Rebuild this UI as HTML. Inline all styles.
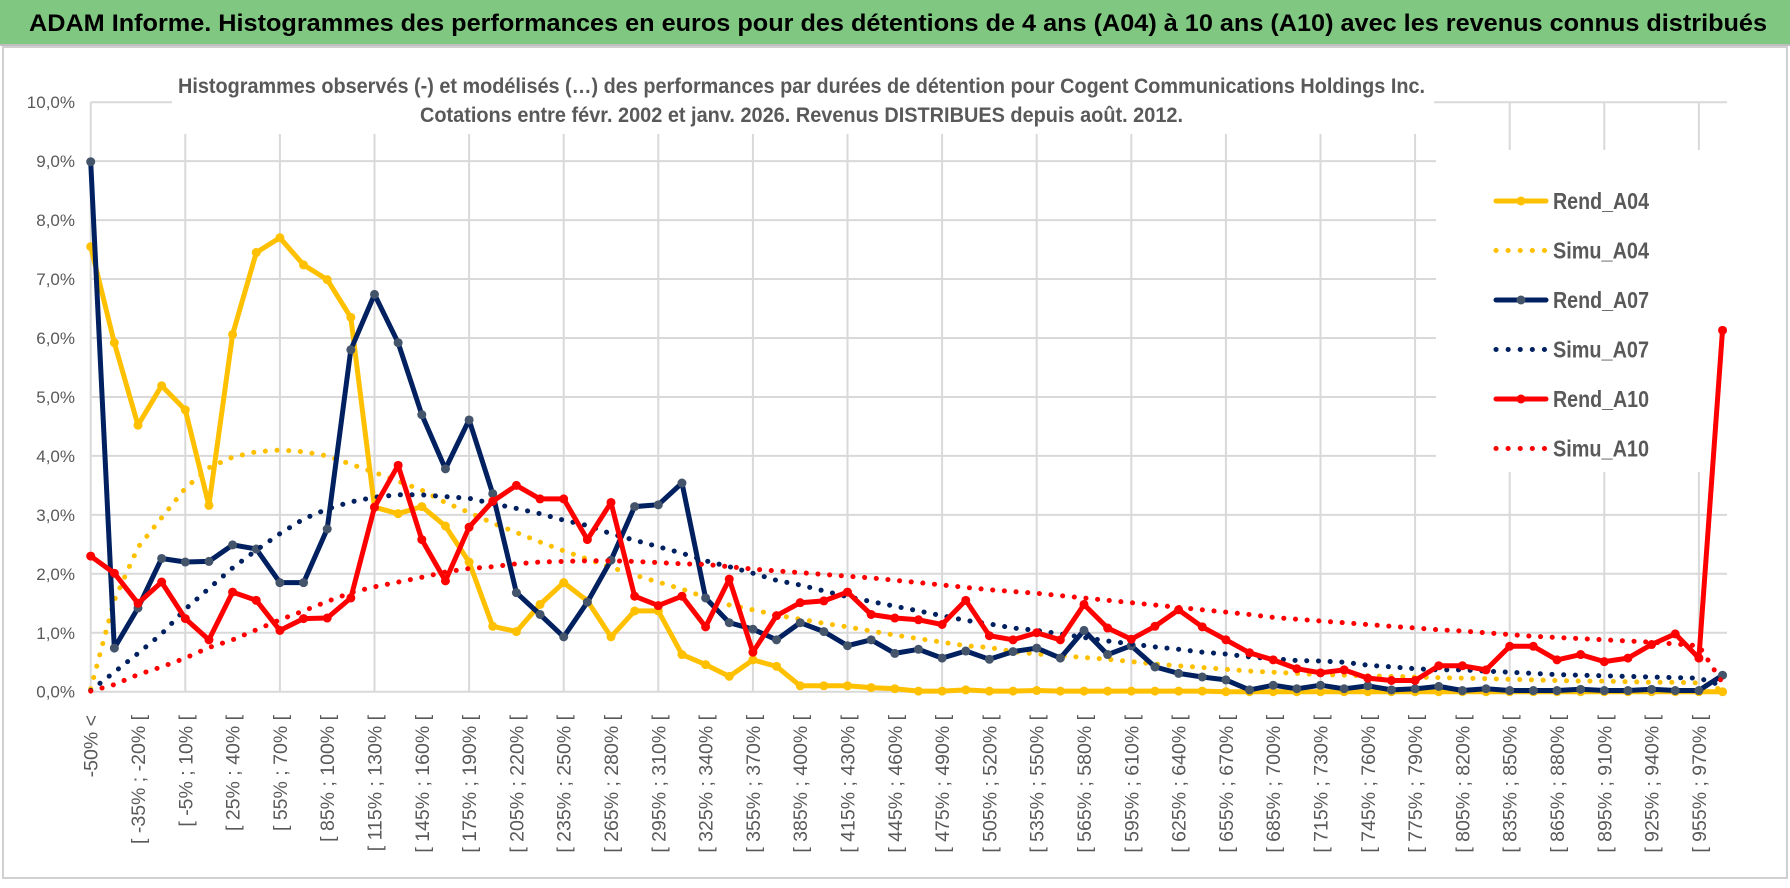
<!DOCTYPE html>
<html><head><meta charset="utf-8"><style>
html,body{margin:0;padding:0;background:#fff;}
svg{display:block;font-family:"Liberation Sans",sans-serif;}
</style></head><body>
<svg id="chart" width="1790" height="888" viewBox="0 0 1790 888" xmlns="http://www.w3.org/2000/svg">
<rect x="0" y="0" width="1790" height="888" fill="#fff"/>
<rect x="0" y="0" width="1790" height="44" fill="#80C882"/>
<line x1="0" y1="45" x2="1790" y2="45" stroke="#BFBFBF" stroke-width="2"/>
<text x="29" y="31" font-size="24" font-weight="bold" fill="#000" textLength="1738" lengthAdjust="spacingAndGlyphs">ADAM Informe. Histogrammes des performances en euros pour des détentions de 4 ans (A04) à 10 ans (A10) avec les revenus connus distribués</text>
<rect x="3" y="47" width="1784" height="831" fill="none" stroke="#D0D0D0" stroke-width="2"/>
<g id="grid"></g>
<rect x="172" y="66" width="1262" height="68" fill="#fff"/>
<rect x="1436" y="150" width="300" height="322" fill="#fff"/>
<g id="yaxis"></g>
<g id="xaxis"></g>
<text x="178" y="93" font-size="21" font-weight="bold" fill="#595959" textLength="1247" lengthAdjust="spacingAndGlyphs">Histogrammes observés (-) et modélisés (…) des performances par durées de détention pour Cogent Communications Holdings Inc.</text>
<text x="420" y="122" font-size="21" font-weight="bold" fill="#595959" textLength="763" lengthAdjust="spacingAndGlyphs">Cotations entre févr. 2002 et janv. 2026. Revenus DISTRIBUES depuis août. 2012.</text>
<g id="legend"></g>
<g id="series"></g>
</svg>
<script>
const categories = ["-50% <"];
for (let k = 1; k < 70; k++) { const a = -50 + 15 * (k - 1); categories.push("[ " + a + "% ; " + (a + 15) + "% ["); }
const yTicks = [0,1,2,3,4,5,6,7,8,9,10];
const yTickLabels = ["0,0%","1,0%","2,0%","3,0%","4,0%","5,0%","6,0%","7,0%","8,0%","9,0%","10,0%"];
const rendA04 = [7.55,5.92,4.52,5.19,4.78,3.16,6.06,7.45,7.70,7.24,6.99,6.35,3.13,3.02,3.14,2.81,2.20,1.11,1.02,1.48,1.85,1.54,0.93,1.37,1.37,0.63,0.46,0.26,0.54,0.43,0.10,0.10,0.10,0.07,0.05,0.01,0.01,0.03,0.01,0.01,0.02,0.01,0.01,0.01,0.01,0.01,0.01,0.01,0,0,0,0,0,0,0,0,0,0,0,0,0,0,0,0,0,0,0,0,0,0];
const simuA04 = [0.05,1.55,2.45,2.95,3.45,3.80,3.98,4.07,4.10,4.07,4.00,3.86,3.72,3.57,3.42,3.21,3.04,2.86,2.70,2.54,2.39,2.25,2.11,1.98,1.86,1.74,1.60,1.47,1.39,1.30,1.23,1.16,1.10,1.03,0.96,0.90,0.84,0.78,0.75,0.68,0.64,0.61,0.58,0.55,0.51,0.47,0.44,0.41,0.38,0.35,0.33,0.31,0.29,0.28,0.27,0.26,0.25,0.24,0.23,0.22,0.21,0.20,0.19,0.18,0.18,0.17,0.16,0.16,0.15,0.03];
const rendA07 = [8.99,0.74,1.42,2.26,2.20,2.21,2.49,2.42,1.85,1.85,2.76,5.80,6.74,5.92,4.70,3.78,4.61,3.36,1.68,1.31,0.93,1.52,2.23,3.14,3.17,3.54,1.59,1.17,1.06,0.88,1.17,1.02,0.78,0.88,0.65,0.72,0.57,0.69,0.55,0.68,0.74,0.57,1.04,0.63,0.78,0.42,0.31,0.25,0.20,0.03,0.11,0.05,0.11,0.05,0.10,0.03,0.05,0.09,0.02,0.05,0.02,0.02,0.02,0.04,0.02,0.02,0.04,0.02,0.02,0.28];
const simuA07 = [0.02,0.33,0.65,0.98,1.40,1.75,2.10,2.40,2.68,2.93,3.10,3.22,3.30,3.34,3.34,3.31,3.28,3.19,3.11,3.02,2.91,2.82,2.68,2.57,2.46,2.35,2.22,2.12,2.01,1.89,1.81,1.71,1.61,1.53,1.45,1.37,1.29,1.21,1.15,1.08,1.04,0.98,0.92,0.86,0.81,0.76,0.72,0.67,0.64,0.59,0.56,0.53,0.52,0.50,0.45,0.42,0.39,0.37,0.37,0.35,0.33,0.31,0.29,0.28,0.27,0.26,0.25,0.24,0.23,0.10];
const rendA10 = [2.30,2.01,1.50,1.86,1.24,0.88,1.69,1.55,1.04,1.24,1.25,1.59,3.13,3.84,2.58,1.88,2.79,3.23,3.50,3.27,3.27,2.58,3.21,1.62,1.46,1.62,1.10,1.91,0.67,1.29,1.51,1.54,1.69,1.31,1.25,1.22,1.14,1.55,0.95,0.88,1.00,0.88,1.48,1.08,0.89,1.11,1.39,1.10,0.88,0.66,0.54,0.39,0.32,0.37,0.23,0.19,0.19,0.44,0.44,0.37,0.77,0.77,0.54,0.63,0.51,0.57,0.80,0.98,0.57,6.13];
const simuA10 = [0.01,0.12,0.29,0.42,0.57,0.75,0.88,1.05,1.22,1.37,1.53,1.68,1.78,1.86,1.94,2.03,2.09,2.12,2.17,2.20,2.21,2.22,2.22,2.21,2.19,2.17,2.16,2.12,2.08,2.05,2.02,1.99,1.96,1.93,1.89,1.85,1.81,1.77,1.73,1.70,1.67,1.63,1.59,1.55,1.51,1.47,1.43,1.39,1.35,1.31,1.26,1.23,1.20,1.17,1.14,1.11,1.08,1.05,1.03,1.00,0.97,0.94,0.92,0.90,0.88,0.86,0.84,0.81,0.78,0.15];
const seriesNames = ["Rend_A04","Simu_A04","Rend_A07","Simu_A07","Rend_A10","Simu_A10"];

const NS = "http://www.w3.org/2000/svg";
const X0 = 90.7, DX = 23.65, Y0 = 691.7, DY = 58.95, XR = 1727;
function xs(i){ return X0 + DX * i; }
function ys(v){ return Y0 - v * DY; }
function mk(tag, attrs, parent){ const e = document.createElementNS(NS, tag); for (const k in attrs) e.setAttribute(k, attrs[k]); parent.appendChild(e); return e; }

const grid = document.getElementById("grid");
yTicks.forEach((t) => {
  const l = mk("line", {x1: X0, x2: XR, y1: ys(t), y2: ys(t), stroke: "#D9D9D9", "stroke-width": 2}, grid);
  
  
});
for (let i = 0; i < categories.length; i += 4) {
  const l = mk("line", {x1: xs(i), x2: xs(i), y1: ys(10), y2: Y0, stroke: "#D9D9D9", "stroke-width": 2}, grid);
  
  
}
const yaxis = document.getElementById("yaxis");
yTicks.forEach((t, k) => {
  const tx = mk("text", {x: 75, y: ys(t) + 6, "text-anchor": "end", "font-size": 17, fill: "#595959"}, yaxis);
  tx.textContent = yTickLabels[k];
  
  
});
const xaxis = document.getElementById("xaxis");
categories.forEach((c, i) => {
  if (i % 2 !== 0) return;
  const x = xs(i) + 7, y = 715;
  const tx = mk("text", {x: x, y: y, transform: "rotate(-90 " + x + " " + y + ")", "text-anchor": "end", "font-size": 19.5, fill: "#595959"}, xaxis);
  tx.textContent = c;
  
  
});

const seriesData = [rendA04, simuA04, rendA07, simuA07, rendA10, simuA10];
const colors = ["#FFC000","#FFC000","#002060","#002060","#FF0000","#FF0000"];
const markerFill = ["#FFC000",null,"#44546A",null,"#FF0000",null];
const sg = document.getElementById("series");
seriesData.forEach((arr, s) => {
  const dotted = s % 2 === 1;
  const pts = arr.map((v, i) => xs(i).toFixed(1) + "," + ys(v).toFixed(1)).join(" ");
  const attrs = {points: pts, fill: "none", stroke: colors[s], "stroke-width": 5, "stroke-linejoin": "round", "stroke-linecap": "round"};
  if (dotted) attrs["stroke-dasharray"] = "0.1 11.6";
  const pl = mk("polyline", attrs, sg);
  
  
  if (!dotted) {
    arr.forEach((v, i) => {
      const c = mk("circle", {cx: xs(i), cy: ys(v), r: 4.5, fill: markerFill[s]}, sg);
      
      
    });
  }
});

const lg = document.getElementById("legend");
seriesNames.forEach((n, s) => {
  const y = 201 + s * 49.5;
  const dotted = s % 2 === 1;
  const g = mk("g", {}, lg);
  
  
  const la = {x1: 1496, x2: 1546, y1: y, y2: y, stroke: colors[s], "stroke-width": 5, "stroke-linecap": "round"};
  if (dotted) la["stroke-dasharray"] = "0.1 12";
  mk("line", la, g);
  if (!dotted) mk("circle", {cx: 1521, cy: y, r: 4.5, fill: markerFill[s]}, g);
  const t = mk("text", {x: 1553, y: y + 8, "font-size": 23, "font-weight": "bold", fill: "#595959", textLength: 96, lengthAdjust: "spacingAndGlyphs"}, g);
  t.textContent = n;
});
</script>
</body></html>
